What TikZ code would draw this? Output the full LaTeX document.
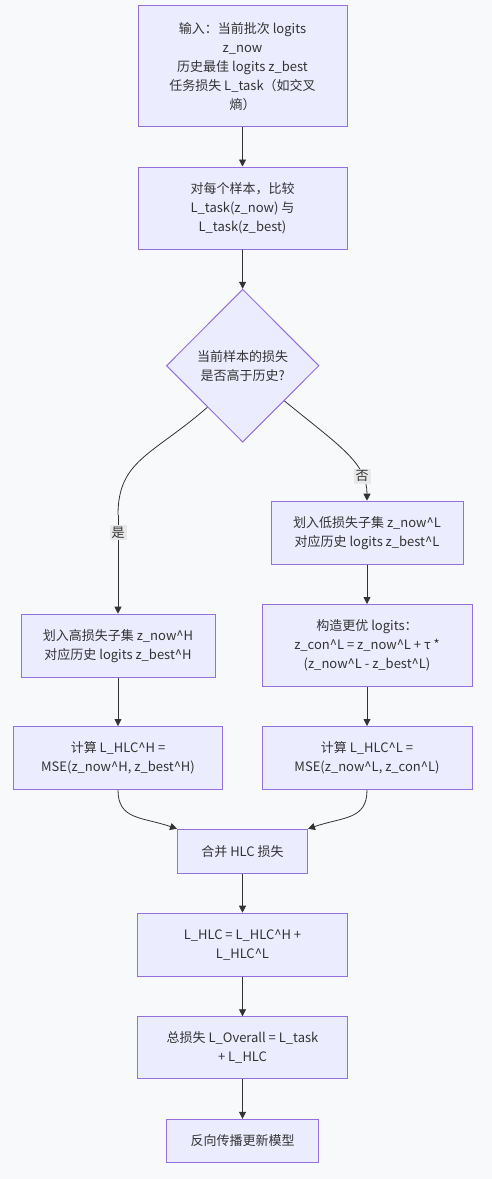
\documentclass[tikz,border=0pt]{standalone}
\usepackage{fontspec}
\setmainfont{Noto Sans CJK SC}
\usetikzlibrary{shapes.geometric,arrows.meta,calc}
\definecolor{bgc}{HTML}{F8F9FA}
\definecolor{nodefill}{HTML}{ECECFF}
\definecolor{nodeborder}{HTML}{9370DB}
\definecolor{txt}{HTML}{333333}
\definecolor{edgec}{HTML}{333333}
\definecolor{lblbg}{HTML}{E8E8E8}
\tikzset{
  box/.style={draw=nodeborder, fill=nodefill, line width=1pt, text=txt, align=center,
    inner sep=0pt, font=\fontsize{13pt}{19pt}\selectfont},
  dec/.style={diamond, aspect=1, draw=nodeborder, fill=nodefill, line width=1pt, text=txt,
    align=center, inner sep=0pt, minimum width=152.6pt, minimum height=153pt,
    font=\fontsize{13pt}{19pt}\selectfont},
  conn/.style={draw=edgec, line width=0.8pt, -{Triangle[length=7pt,width=7pt]}},
  lbl/.style={fill=lblbg, text=txt, inner sep=2pt, font=\fontsize{13pt}{15pt}\selectfont}
}
\begin{document}
\begin{tikzpicture}[x=1pt,y=-1pt]
\fill[bgc] (0,0) rectangle (492,1179);
\useasboundingbox (0,0) rectangle (492,1179);

\node[box, minimum width=209pt, minimum height=121pt] (in) at (242.5,66.3)
  {输入：当前批次 logits\\z\_now\\历史最佳 logits z\_best\\任务损失 L\_task（如交叉\\熵）};
\node[box, minimum width=209pt, minimum height=82pt] (cmp) at (242.5,208)
  {对每个样本，比较\\L\_task(z\_now) 与\\L\_task(z\_best)};
\node[dec] (dia) at (242.7,365.7) {当前样本的损失\\是否高于历史?};
\node[box, minimum width=192pt, minimum height=63pt] (low) at (367,532.7)
  {划入低损失子集 z\_now\^{}L\\对应历史 logits z\_best\^{}L};
\node[box, minimum width=194pt, minimum height=63pt] (high) at (118,645.7)
  {划入高损失子集 z\_now\^{}H\\对应历史 logits z\_best\^{}H};
\node[box, minimum width=210pt, minimum height=82pt] (con) at (367,645.5)
  {构造更优 logits：\\z\_con\^{}L = z\_now\^{}L + τ *\\(z\_now\^{}L - z\_best\^{}L)};
\node[box, minimum width=209pt, minimum height=63pt] (hH) at (118,758)
  {计算 L\_HLC\^{}H =\\MSE(z\_now\^{}H, z\_best\^{}H)};
\node[box, minimum width=210pt, minimum height=63pt] (hL) at (367,758)
  {计算 L\_HLC\^{}L =\\MSE(z\_now\^{}L, z\_con\^{}L)};
\node[box, minimum width=130pt, minimum height=44pt] (merge) at (242.5,851.3)
  {合并 HLC 损失};
\node[box, minimum width=210pt, minimum height=63pt] (sum) at (242.5,944.7)
  {L\_HLC = L\_HLC\^{}H +\\L\_HLC\^{}L};
\node[box, minimum width=210pt, minimum height=62pt] (tot) at (242.5,1047.8)
  {总损失 L\_Overall = L\_task\\+ L\_HLC};
\node[box, minimum width=152pt, minimum height=43pt] (bp) at (242.5,1140.8)
  {反向传播更新模型};

\coordinate (ys) at ($(dia.west)!0.54!(dia.south)$);
\coordinate (ns) at ($(dia.east)!0.457!(dia.south)$);
\coordinate (ym) at (118,515);

\draw[conn] (in) -- (cmp);
\draw[conn] (cmp) -- (dia);
\draw[draw=edgec, line width=0.8pt] (ys) .. controls +(-55,48) and +(0,-55) .. (ym);
\draw[conn] (ym) -- node[lbl, pos=0.18] {是} (high);
\draw[conn] (ns) .. controls +(55,45) and +(0,-70) .. node[lbl, pos=0.76] {否} (low);
\draw[conn] (low) -- (con);
\draw[conn] (high) -- (hH);
\draw[conn] (con) -- (hL);
\draw[conn] (hH.south) .. controls +(0,30) and +(-35,-12) .. (merge.north west);
\draw[conn] (hL.south) .. controls +(0,30) and +(35,-12) .. (merge.north east);
\draw[conn] (merge) -- (sum);
\draw[conn] (sum) -- (tot);
\draw[conn] (tot) -- (bp);
\end{tikzpicture}
\end{document}
